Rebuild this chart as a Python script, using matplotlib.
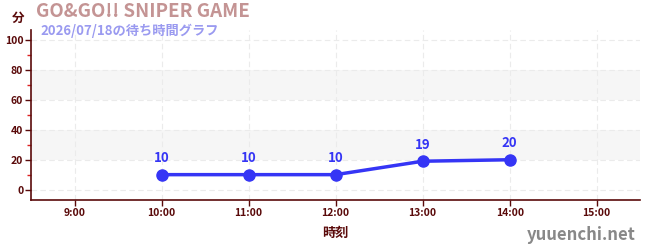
import matplotlib
matplotlib.use("Agg")
import matplotlib.pyplot as plt
from matplotlib.ticker import FixedLocator

plt.rcParams['font.family'] = ['Noto Sans CJK JP', 'DejaVu Sans']

hours = [10, 11, 12, 13, 14]
waits = [10, 10, 10, 19, 20]
xticks = [9, 10, 11, 12, 13, 14, 15]
xlabels = ["9:00", "10:00", "11:00", "12:00", "13:00", "14:00", "15:00"]
yticks = [0, 20, 40, 60, 80, 100]

title = "GO&GO!! SNIPER GAME"
subtitle = "2026/07/18の待ち時間グラフ"

dark = "#5a0a0a"
blue = "#3535f5"

fig = plt.figure(figsize=(6.5, 2.5), dpi=100)
ax = fig.add_axes([0.0477, 0.2, 0.9373, 0.68])
ax.set_xlim(8.5, 15.5)
ax.set_ylim(-7, 107)

for lo, hi in [(20, 40), (60, 80)]:
    ax.axhspan(lo, hi, color="#f6f6f6", zorder=0, lw=0)

ax.set_xticks(xticks)
ax.set_xticklabels(xlabels)
ax.set_yticks(yticks)
ax.yaxis.set_minor_locator(FixedLocator([10, 30, 50, 70, 90]))
ax.grid(True, which="major", color="#ebebeb", linestyle=(0, (5, 3)), lw=0.8, zorder=0.5)

ax.tick_params(axis="both", which="major", labelsize=7.5, colors=dark, length=4, width=1, pad=1.5)
ax.tick_params(axis="y", which="minor", color="#dd2222", length=3, width=1)
for lab in ax.get_xticklabels() + ax.get_yticklabels():
    lab.set_fontweight("bold")

for s in ["top", "right"]:
    ax.spines[s].set_visible(False)
for s in ["left", "bottom"]:
    ax.spines[s].set_color(dark)
    ax.spines[s].set_linewidth(1.2)

ax.plot(hours, waits, color=blue, lw=2.5, marker="o", markersize=8, zorder=3)
for h, w in zip(hours, waits):
    ax.annotate(str(w), (h, w), xytext=(0, 7), textcoords="offset points",
                ha="center", va="bottom", color=blue, fontsize=9.5, fontweight="bold")

ax.set_xlabel("時刻", color=dark, fontsize=9.5, fontweight="bold", labelpad=6)

fig.text(0.018, 0.925, "分", color=dark, fontsize=9, fontweight="bold", ha="left", va="center")
fig.text(0.055, 0.955, title, color="#c49494", fontsize=13.5, fontweight="bold", ha="left", va="center")
fig.text(0.063, 0.875, subtitle, color="#9a9af0", fontsize=9.5, fontweight="bold", ha="left", va="center")
fig.text(0.978, 0.06, "yuuenchi.net", color="#888888", fontsize=12, fontweight="bold", ha="right", va="center")

fig.savefig("out.png", dpi=100)
